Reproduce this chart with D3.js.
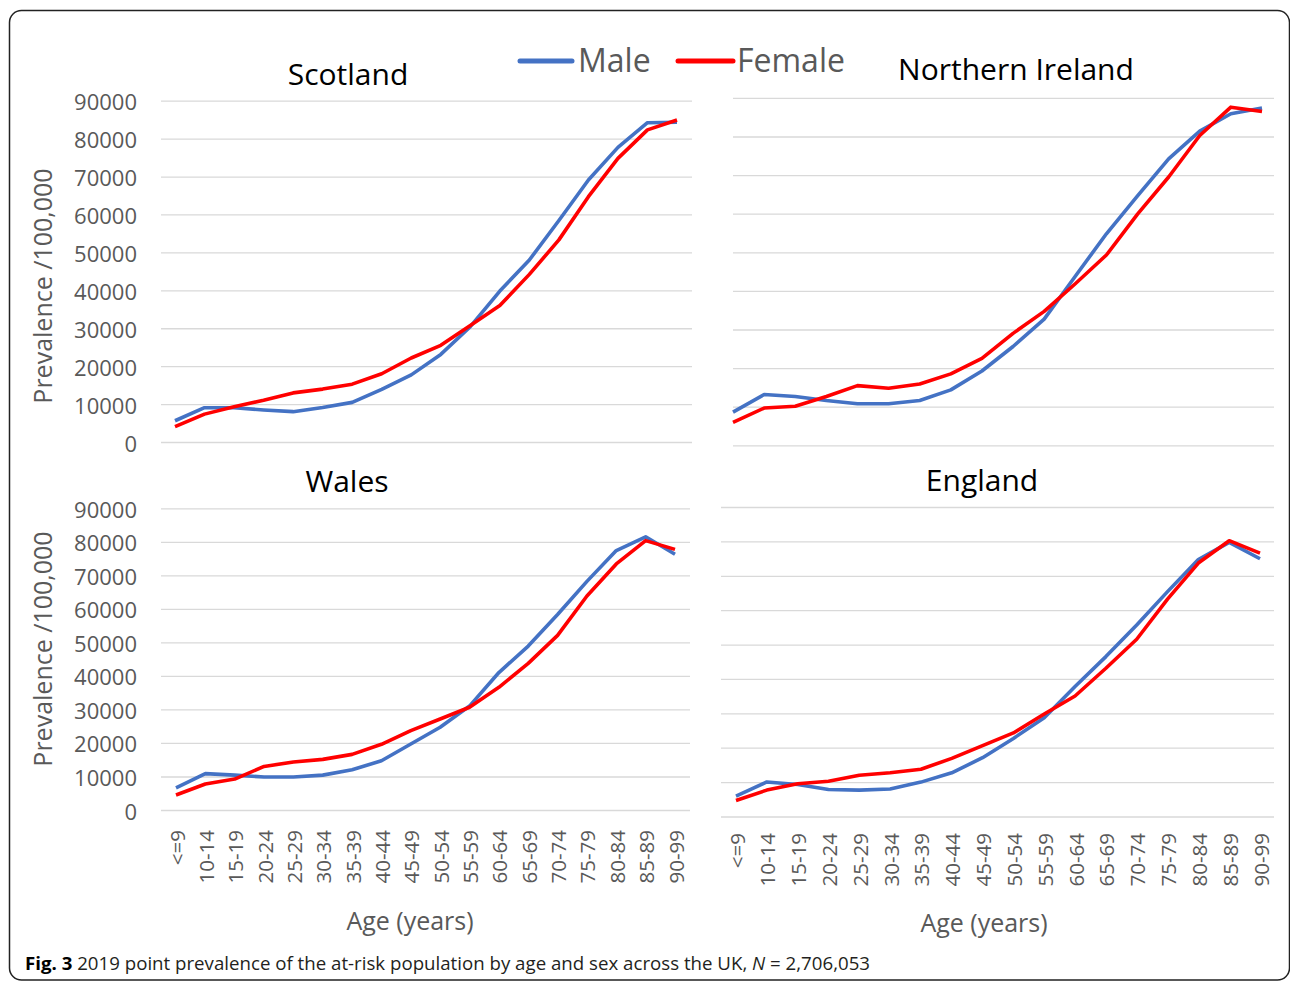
<!DOCTYPE html>
<html><head><meta charset="utf-8">
<script src="https://cdn.jsdelivr.net/npm/d3@7/dist/d3.min.js"></script>
<style>body{margin:0;background:#fff}svg{display:block}</style>
</head><body>
<svg id="c" width="1290" height="981"></svg>
<script>
const categories = ["<=9","10-14","15-19","20-24","25-29","30-34","35-39","40-44","45-49","50-54","55-59","60-64","65-69","70-74","75-79","80-84","85-89","90-99"];
const yTicks = [0,10000,20000,30000,40000,50000,60000,70000,80000,90000];
const seriesNames = ["Male","Female"];
const seriesColors = ["#4472C4","#FF0000"];

const scotlandMale   = [5600,9050,9050,8450,8000,9100,10450,13900,17700,23100,30400,39800,48000,58400,69100,77700,84200,84300];
const scotlandFemale = [4050,7350,9300,11000,12950,13950,15250,18000,22150,25500,30700,36000,44200,53300,64700,74800,82300,84900];
const niMale         = [8600,13150,12650,11600,10750,10750,11600,14350,19250,25600,32700,43800,54800,64600,74200,81400,85900,87400];
const niFemale       = [5950,9650,10100,12650,15450,14800,15900,18500,22500,29000,34700,41850,49300,59900,69500,80250,87600,86500];
const walesMale      = [6630,10850,10400,9850,9850,10400,12000,14700,19700,24700,31000,41000,48900,58300,68200,77400,81500,76300];
const walesFemale    = [4460,7740,9220,13000,14300,15100,16600,19600,23700,27150,30650,36600,43750,52100,63850,73400,80350,77750];
const englandMale    = [5950,10050,9300,7870,7680,8000,10000,12700,17100,22700,28700,37800,46500,55700,65400,74700,79700,74950];
const englandFemale  = [4650,7680,9500,10250,12000,12700,13750,16900,20600,24300,29800,35050,43100,51550,63200,73700,80200,76600];

const FONT = "'Open Sans', 'Noto Sans', sans-serif";
const GRAY = "#595959";

const panels = [
  {title:"Scotland", male:scotlandMale, female:scotlandFemale, px:[175,677], gx:[161,692], py:[442,100.7], tx:348, ty:85, yLab:true, yTitleY:286, xLab:false},
  {title:"Northern Ireland", male:niMale, female:niFemale, px:[733,1262], gx:[733,1274], py:[445.3,97.9], tx:1016, ty:80, yLab:false, xLab:false},
  {title:"Wales", male:walesMale, female:walesFemale, px:[176,675], gx:[161,690], py:[810,508.3], tx:347, ty:492, yLab:true, yTitleY:649, xLab:true, xLabY:830, xTitle:[410,930]},
  {title:"England", male:englandMale, female:englandFemale, px:[736,1260], gx:[721,1274], py:[816.5,507], tx:982, ty:491, yLab:false, xLab:true, xLabY:833, xTitle:[984,932]}
];

const svg = d3.select("#c");
svg.append("rect").attr("width",1290).attr("height",981).attr("fill","#fff");
svg.append("rect").attr("x",9.5).attr("y",10.5).attr("width",1280).attr("height",969.5).attr("rx",12)
  .attr("fill","none").attr("stroke","#222").attr("stroke-width",1.5);

panels.forEach(p => {
  const x = d3.scalePoint().domain(categories).range(p.px);
  const y = d3.scaleLinear().domain([0,90000]).range(p.py);
  const g = svg.append("g");

  const grid = g.append("g").attr("transform",`translate(${p.gx[0]},0)`)
    .call(d3.axisLeft(y).tickValues(yTicks).tickSize(-(p.gx[1]-p.gx[0])).tickFormat(""));
  grid.select(".domain").remove();
  grid.selectAll("line").attr("stroke","#d9d9d9").attr("stroke-width",1.3);

  if (p.yLab) {
    const ya = g.append("g").attr("transform","translate(137,0)")
      .call(d3.axisLeft(y).tickValues(yTicks).tickSize(0).tickPadding(0).tickFormat(d3.format("d")));
    ya.select(".domain").remove();
    ya.selectAll("text").attr("font-family",FONT).attr("font-size",22).attr("fill",GRAY)
      .attr("dy",null).attr("dominant-baseline","central");
    g.append("text").attr("transform",`translate(42,${p.yTitleY}) rotate(-90)`)
      .attr("text-anchor","middle").attr("dominant-baseline","central")
      .attr("font-family",FONT).attr("font-size",25).attr("fill",GRAY).text("Prevalence /100,000");
  }
  if (p.xLab) {
    const xa = g.append("g").attr("transform",`translate(0,${p.xLabY})`)
      .call(d3.axisBottom(x).tickSize(0));
    xa.select(".domain").remove();
    xa.selectAll("text").attr("y",0).attr("x",0).attr("dy",null)
      .attr("transform","rotate(-90)").attr("text-anchor","end").attr("dominant-baseline","central")
      .attr("font-family",FONT).attr("font-size",20.5).attr("fill",GRAY);
    g.append("text").attr("x",p.xTitle[0]).attr("y",p.xTitle[1]).attr("text-anchor","middle")
      .attr("font-family",FONT).attr("font-size",25).attr("fill",GRAY).text("Age (years)");
  }

  g.append("text").attr("x",p.tx).attr("y",p.ty).attr("text-anchor","middle")
    .attr("font-family",FONT).attr("font-size",30).attr("fill","#000").text(p.title);

  const line = d3.line().x((d,i)=>x(categories[i])).y(d=>y(d));
  [p.male, p.female].forEach((s,k) => {
    g.append("path").datum(s).attr("d",line).attr("fill","none")
      .attr("stroke",seriesColors[k]).attr("stroke-width",3.6).attr("stroke-linejoin","round");
  });
});

const legendPos = [[520,572,578],[678,733,737]];
seriesNames.forEach((n,i) => {
  const [a,b,t] = legendPos[i];
  svg.append("line").attr("x1",a).attr("x2",b).attr("y1",61).attr("y2",61)
    .attr("stroke",seriesColors[i]).attr("stroke-width",5).attr("stroke-linecap","round");
  svg.append("text").attr("x",t).attr("y",72).attr("font-family",FONT).attr("font-size",32)
    .attr("fill",GRAY).text(n);
});

const cap = svg.append("text").attr("x",25).attr("y",970).attr("font-family",FONT)
  .attr("font-size",18.5).attr("fill","#231f20").attr("textLength",845).attr("lengthAdjust","spacingAndGlyphs");
cap.append("tspan").attr("font-weight","bold").attr("fill","#000").text("Fig. 3");
cap.append("tspan").text(" 2019 point prevalence of the at-risk population by age and sex across the UK, ");
cap.append("tspan").attr("font-style","italic").text("N");
cap.append("tspan").text(" = 2,706,053");
</script>
</body></html>
